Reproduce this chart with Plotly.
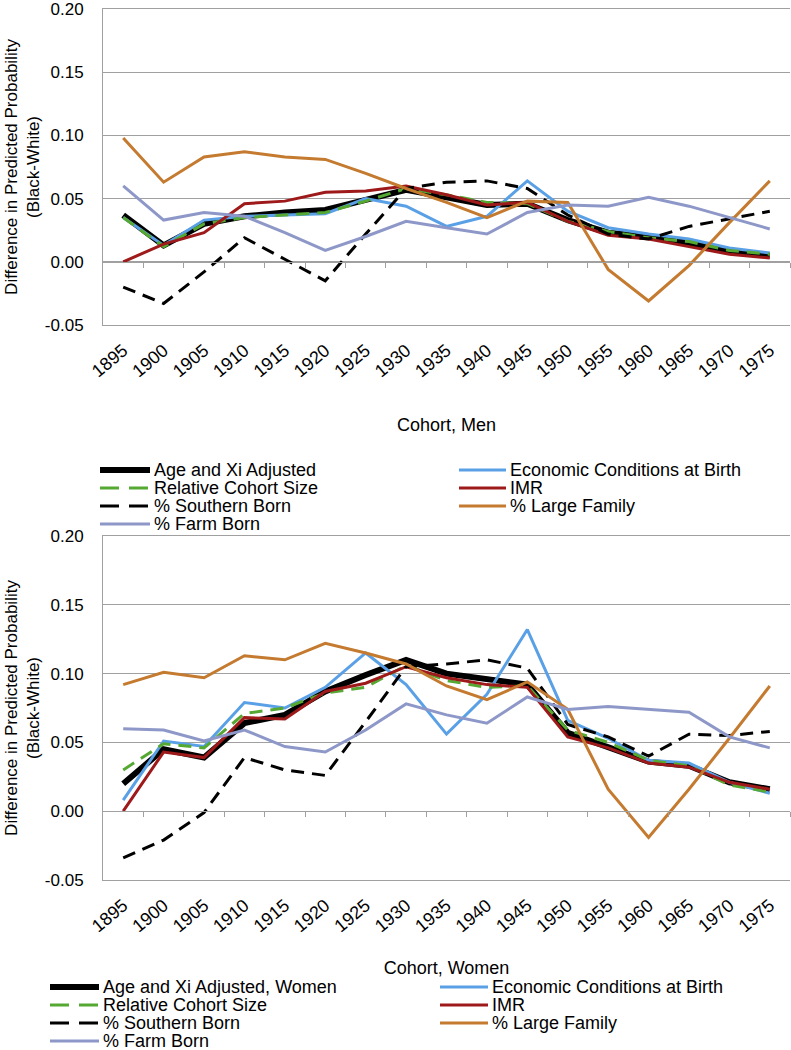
import plotly.graph_objects as go

# cohorts (x categories)
cohorts = [1895, 1900, 1905, 1910, 1915, 1920, 1925, 1930, 1935, 1940,
           1945, 1950, 1955, 1960, 1965, 1970, 1975]
tick_labels = [str(c) for c in cohorts]
y_ticks = [-0.05, 0.0, 0.05, 0.10, 0.15, 0.20]
y_labels = ["-0.05", "0.00", "0.05", "0.10", "0.15", "0.20"]

# Men
men_age = [0.037, 0.013, 0.030, 0.036, 0.039, 0.041, 0.049, 0.057, 0.051, 0.045, 0.046, 0.033, 0.023, 0.020, 0.015, 0.008, 0.005]
men_econ = [0.035, 0.013, 0.033, 0.036, 0.037, 0.038, 0.050, 0.044, 0.028, 0.036, 0.064, 0.040, 0.027, 0.022, 0.018, 0.011, 0.007]
men_rcs = [0.035, 0.012, 0.030, 0.035, 0.037, 0.039, 0.048, 0.058, 0.053, 0.047, 0.046, 0.032, 0.024, 0.019, 0.016, 0.009, 0.006]
men_imr = [0.000, 0.014, 0.023, 0.046, 0.048, 0.055, 0.056, 0.060, 0.053, 0.045, 0.047, 0.032, 0.021, 0.018, 0.012, 0.006, 0.003]
men_south = [-0.020, -0.033, -0.008, 0.019, 0.002, -0.015, 0.022, 0.058, 0.063, 0.064, 0.058, 0.037, 0.022, 0.018, 0.028, 0.034, 0.040]
men_large = [0.098, 0.063, 0.083, 0.087, 0.083, 0.081, 0.070, 0.058, 0.047, 0.035, 0.048, 0.047, -0.006, -0.031, -0.003, 0.031, 0.064]
men_farm = [0.060, 0.033, 0.039, 0.036, 0.023, 0.009, 0.020, 0.032, 0.027, 0.022, 0.039, 0.045, 0.044, 0.051, 0.044, 0.035, 0.026]

# Women
women_age = [0.020, 0.045, 0.039, 0.064, 0.070, 0.087, 0.099, 0.110, 0.100, 0.096, 0.092, 0.057, 0.047, 0.036, 0.033, 0.021, 0.016]
women_econ = [0.008, 0.051, 0.047, 0.079, 0.075, 0.090, 0.115, 0.092, 0.056, 0.085, 0.132, 0.066, 0.053, 0.037, 0.035, 0.021, 0.013]
women_rcs = [0.030, 0.049, 0.046, 0.071, 0.075, 0.086, 0.090, 0.106, 0.095, 0.090, 0.091, 0.059, 0.050, 0.037, 0.033, 0.019, 0.014]
women_imr = [0.000, 0.043, 0.039, 0.068, 0.067, 0.087, 0.093, 0.105, 0.097, 0.092, 0.090, 0.054, 0.046, 0.035, 0.032, 0.021, 0.016]
women_south = [-0.034, -0.021, -0.001, 0.039, 0.030, 0.026, 0.065, 0.105, 0.107, 0.110, 0.104, 0.063, 0.054, 0.040, 0.056, 0.055, 0.058]
women_large = [0.092, 0.101, 0.097, 0.113, 0.110, 0.122, 0.115, 0.107, 0.091, 0.081, 0.094, 0.074, 0.016, -0.019, 0.016, 0.053, 0.091]
women_farm = [0.060, 0.059, 0.051, 0.059, 0.047, 0.043, 0.059, 0.078, 0.070, 0.064, 0.083, 0.074, 0.076, 0.074, 0.072, 0.054, 0.046]

names_men = ["Age and Xi Adjusted", "Economic Conditions at Birth", "Relative Cohort Size",
             "IMR", "% Southern Born", "% Large Family", "% Farm Born"]
names_women = ["Age and Xi Adjusted, Women", "Economic Conditions at Birth", "Relative Cohort Size",
               "IMR", "% Southern Born", "% Large Family", "% Farm Born"]
men = [men_age, men_econ, men_rcs, men_imr, men_south, men_large, men_farm]
women = [women_age, women_econ, women_rcs, women_imr, women_south, women_large, women_farm]

GRID = "#a0a0a0"
FONT = "Liberation Sans, Arial, sans-serif"
DASH = "13px,8px"
# colour, width, dashed?
styles = [
    ("#000000", 6, False),
    ("#5aa0e6", 3, False),
    ("#55a832", 3, True),
    ("#9e1a1a", 3, False),
    ("#000000", 3, True),
    ("#c47a2f", 3, False),
    ("#8e98c8", 3, False),
]

W, H = 791, 1050
m_l, m_r, m_t, m_b = 2, 1, 9, 170
gw = W - m_l - m_r
ph = H - m_t - m_b


def fx(px):  # pixel -> paper x
    return (px - m_l) / gw


def fy(py):  # pixel -> paper y
    return (H - m_b - py) / ph


x_dom = [fx(103), min(fx(790), 1.0)]
top_dom = [fy(325), min(fy(9), 1.0)]
bot_dom = [max(fy(880), 0.0), fy(536)]
y_rng = [-0.05, 0.20]
x_rng = [cohorts[0] - 2.5, cohorts[-1] + 2.5]
bounds = [c + 2.5 for c in cohorts]


def zero_pos(dom):
    return dom[0] + (0 - y_rng[0]) / (y_rng[1] - y_rng[0]) * (dom[1] - dom[0])


fig = go.Figure()
for series, names, xa, ya in [(men, names_men, "x", "y"), (women, names_women, "x2", "y2")]:
    for vals, nm, (col, w, dashed) in zip(series, names, styles):
        fig.add_trace(go.Scatter(x=cohorts, y=vals, name=nm, mode="lines",
                                 line=dict(color=col, width=w, dash=DASH if dashed else "solid"),
                                 xaxis=xa, yaxis=ya, showlegend=False))

# helper traces so the zero-line tick axes exist
fig.add_trace(go.Scatter(x=cohorts, y=[None] * len(cohorts), xaxis="x3", yaxis="y",
                         showlegend=False, hoverinfo="skip"))
fig.add_trace(go.Scatter(x=cohorts, y=[None] * len(cohorts), xaxis="x4", yaxis="y2",
                         showlegend=False, hoverinfo="skip"))

xcommon = dict(range=x_rng, domain=x_dom, tickvals=cohorts, ticktext=tick_labels, tickangle=-40,
               showgrid=False, zeroline=False, showline=True, mirror=True,
               linecolor=GRID, linewidth=1,
               ticks="", ticklabelstandoff=7, automargin=False,
               tickfont=dict(size=18, color="black"))
ycommon = dict(range=y_rng, tickvals=y_ticks, ticktext=y_labels, showgrid=True,
               gridcolor=GRID, gridwidth=1, zeroline=False, showline=True, linecolor=GRID,
               ticks="", ticklabelstandoff=15, automargin=False, ticklabeloverflow="allow",
               tickfont=dict(size=17, color="black"),
               title=dict(text="Difference in Predicted Probability<br>(Black-White)",
                          font=dict(size=17, color="black"), standoff=0))
ticker = dict(range=x_rng, domain=x_dom, tickvals=bounds, ticks="outside", ticklen=5,
              tickcolor=GRID, showticklabels=False, showgrid=False, zeroline=False,
              showline=True, linecolor=GRID, linewidth=1, anchor="free", side="bottom")

fig.update_layout(
    width=W, height=H,
    margin=dict(l=m_l, r=m_r, t=m_t, b=m_b),
    plot_bgcolor="white", paper_bgcolor="white",
    font=dict(family=FONT, size=17, color="black"),
    showlegend=False,
    xaxis=dict(**xcommon, anchor="y",
               title=dict(text="Cohort, Men", font=dict(size=18), standoff=38)),
    yaxis=dict(**ycommon, domain=top_dom, anchor="x"),
    xaxis2=dict(**xcommon, anchor="y2",
                title=dict(text="Cohort, Women", font=dict(size=18), standoff=26)),
    yaxis2=dict(**ycommon, domain=bot_dom, anchor="x2"),
    xaxis3=dict(**ticker, overlaying="x", position=zero_pos(top_dom)),
    xaxis4=dict(**ticker, overlaying="x2", position=zero_pos(bot_dom)),
)

# Excel-style two-column legends under each panel
legend_specs = [
    (names_men, 470, [(100, 152), (459, 508)]),
    (names_women, 987, [(50, 101), (440, 490)]),
]
row_step = 18
for names, y0, cols in legend_specs:
    for i, (nm, (col, w, dashed)) in enumerate(zip(names, styles)):
        r, c = divmod(i, 2)
        sx, tx = cols[c]
        yy = fy(y0 + r * row_step)
        fig.add_shape(type="line", xref="paper", yref="paper",
                      x0=fx(sx), x1=fx(tx - 2), y0=yy, y1=yy,
                      line=dict(color=col, width=w, dash="19px,10px" if dashed else "solid"))
        fig.add_annotation(text=nm, xref="paper", yref="paper", x=fx(tx), y=yy,
                           xanchor="left", yanchor="middle", showarrow=False,
                           font=dict(size=18, color="black"))

# page body has a default 8px margin; drop it so the figure fills the window
fig.write_html("out.html", config={"displayModeBar": False},
               post_script="document.body.style.margin='0px';")
